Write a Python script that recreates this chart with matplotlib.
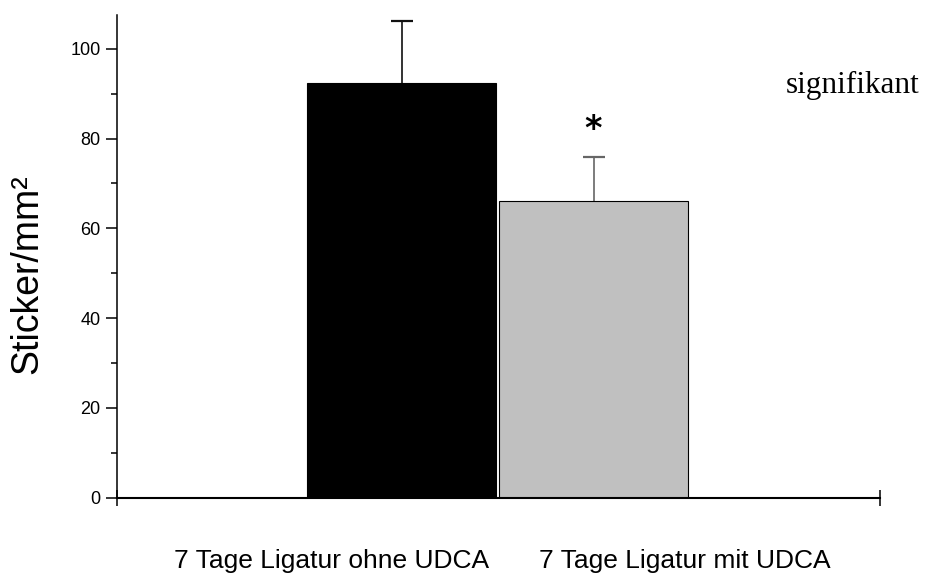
import matplotlib
matplotlib.use("Agg")
import matplotlib.pyplot as plt
import matplotlib.transforms as mtransforms
import numpy as np

# Daten
groups = ['7 Tage Ligatur ohne UDCA', '7 Tage Ligatur mit UDCA']
means = [92.3, 66.0]
sem = [13.9, 9.9]
bar_colors = ['#000000', '#c0c0c0']
stem_colors = ['#111111', '#666666']
sig_marks = ['', '*']

plt.rcParams.update({
    'font.family': 'Liberation Sans',
    'axes.linewidth': 1.1,
})

fig = plt.figure(figsize=(9.26, 5.79), dpi=100, facecolor='white')
ax = fig.add_axes([0.1264, 0.1404, 0.8239, 0.8336])

x = np.arange(len(groups))
ax.bar(x, means, width=0.984, color=bar_colors, edgecolor='black', linewidth=0.8, zorder=2)

# nur obere Fehlerbalken
for i in range(len(means)):
    _, caps, _ = ax.errorbar(x[i], means[i], yerr=[[0], [sem[i]]], fmt='none',
                             ecolor=stem_colors[i], elinewidth=1.2, capsize=8,
                             capthick=1.6, zorder=1)
    caps[0].set_visible(False)
    caps[1].set_color('#808080')
    if sig_marks[i]:
        ax.text(x[i], means[i] + sem[i] + 6.0, sig_marks[i], ha='center', va='center',
                fontsize=24, fontweight='bold', family='DejaVu Sans')

ax.set_xlim(-1.482, 2.492)
ax.set_ylim(0, 107.5)

ax.spines['top'].set_visible(False)
ax.spines['right'].set_visible(False)
ax.spines['bottom'].set_linewidth(1.5)

ax.set_yticks(np.arange(0, 101, 20))
ax.set_yticks(np.arange(10, 101, 20), minor=True)
ax.tick_params(axis='y', which='major', length=8, width=1.1, labelsize=13, pad=4)
ax.tick_params(axis='y', which='minor', length=4, width=1.1)

# x-Achse: nur Endmarken
ax.set_xticks([-1.482, 2.492])
ax.set_xticklabels([])
ax.tick_params(axis='x', direction='inout', length=12, width=1.1)

ax.set_ylabel('Sticker/mm²', fontsize=27)
ax.yaxis.set_label_coords(-0.0944, 0.463)

# Gruppenbeschriftungen unter der Achse
trans = mtransforms.blended_transform_factory(ax.transData, ax.transAxes)
label_x = [-0.367, 1.477]
for lx, g in zip(label_x, groups):
    ax.text(lx, -0.132, g, transform=trans, ha='center', va='center', fontsize=19)

fig.text(786 / 926, 1 - 93 / 579, 'signifikant', ha='left', va='baseline',
         fontsize=22.5, family='Liberation Serif')

fig.savefig('out.png', dpi=100, facecolor='white')
